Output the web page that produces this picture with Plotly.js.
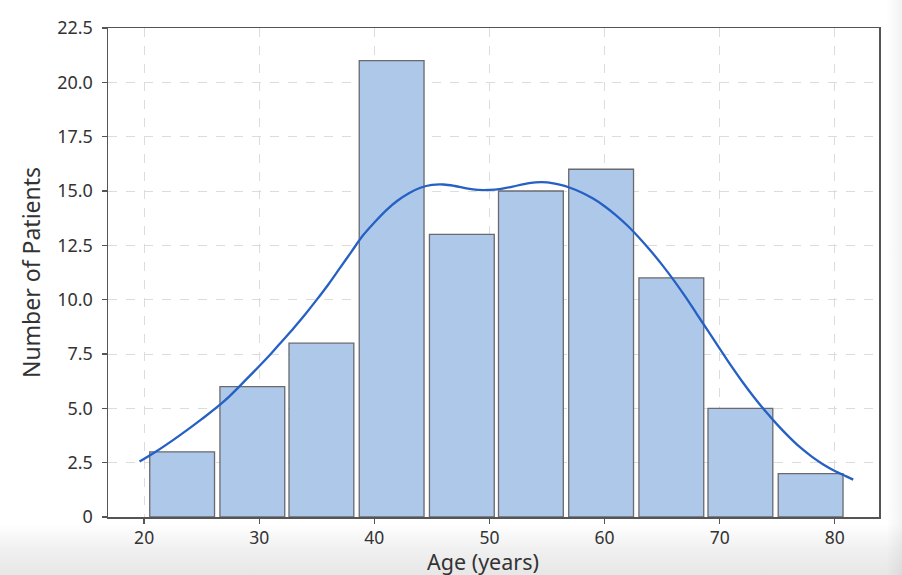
<!DOCTYPE html>
<html>
<head>
<meta charset="utf-8">
<script src="https://cdn.plot.ly/plotly-3.0.1.min.js"></script>
<style>
  html, body { margin: 0; padding: 0; }
  body {
    width: 902px; height: 575px; overflow: hidden;
    background:
      linear-gradient(90deg, rgba(0,0,0,0) 0px, rgba(0,0,0,0) 886px, rgba(0,0,0,0.05) 902px),
      linear-gradient(180deg, #ffffff 0px, #ffffff 524px, #f1f1f1 548px, #e7e7e7 575px);
  }
  #chart { width: 902px; height: 575px; }
</style>
</head>
<body>
<div id="chart"></div>
<script>
// ---- data ----
const binCenters = [23.3, 29.4, 35.4, 41.5, 47.6, 53.6, 59.7, 65.8, 71.8, 77.9];
const patientCounts = [3, 6, 8, 21, 13, 15, 16, 11, 5, 2];

const kdeAge = [19.6, 21, 23, 25, 27, 29, 31, 32, 33, 34, 35, 36, 37, 38, 39, 40, 41, 42, 43, 44, 45, 46, 47, 48, 49, 50, 51, 52, 53, 54, 55, 56, 57, 58, 59, 60, 61, 62, 63, 64, 65, 66, 67, 68, 69, 70, 71, 72, 73, 74, 75, 76, 77, 78, 79, 80, 81, 81.6];
const kdeCount = [2.55, 3.0, 3.72, 4.5, 5.35, 6.4, 7.5, 8.1, 8.7, 9.33, 10.0, 10.7, 11.45, 12.2, 12.95, 13.55, 14.1, 14.55, 14.9, 15.15, 15.28, 15.3, 15.23, 15.12, 15.05, 15.05, 15.1, 15.2, 15.32, 15.4, 15.4, 15.3, 15.15, 14.93, 14.65, 14.3, 13.88, 13.4, 12.85, 12.25, 11.6, 10.9, 10.15, 9.35, 8.55, 7.75, 6.95, 6.2, 5.5, 4.85, 4.25, 3.7, 3.2, 2.78, 2.42, 2.12, 1.87, 1.72];

const xTickVals = [20, 30, 40, 50, 60, 70, 80];
const yTickVals = [0, 2.5, 5, 7.5, 10, 12.5, 15, 17.5, 20, 22.5];
const yTickText = ["0", "2.5", "5.0", "7.5", "10.0", "12.5", "15.0", "17.5", "20.0", "22.5"];

const xLabel = "Age (years)";
const yLabel = "Number of Patients";

// ---- traces ----
const bars = {
  type: 'bar',
  x: binCenters,
  y: patientCounts,
  width: 5.63,
  marker: {
    color: 'rgb(174,200,233)',
    line: { color: 'rgb(105,105,110)', width: 1.3 }
  },
  hoverinfo: 'x+y'
};

const kde = {
  type: 'scatter',
  mode: 'lines',
  x: kdeAge,
  y: kdeCount,
  line: { color: 'rgb(37,96,196)', width: 2.3, shape: 'spline', smoothing: 1 },
  hoverinfo: 'skip'
};

const FAMILY = 'Noto Sans, Open Sans, sans-serif';
const yTickFont = { family: FAMILY, size: 18, color: '#333' };
const xTickFont = { family: FAMILY, size: 17.5, color: '#333' };
const titleFont = { family: FAMILY, size: 23, color: '#333' };
const xTitleFont = { family: FAMILY, size: 21.5, color: '#333' };

const layout = {
  width: 902,
  height: 575,
  margin: { l: 108, r: 23, t: 28, b: 58, pad: 0 },
  paper_bgcolor: 'rgba(0,0,0,0)',
  plot_bgcolor: '#ffffff',
  showlegend: false,
  bargap: 0,
  xaxis: {
    range: [16.86, 83.84],
    tickvals: xTickVals,
    ticktext: xTickVals.map(String),
    ticks: 'outside',
    ticklen: 5,
    tickwidth: 1.3,
    tickcolor: '#555',
    tickfont: xTickFont,
    ticklabelstandoff: -1,
    showline: true,
    mirror: true,
    linecolor: '#555',
    linewidth: 1.5,
    showgrid: true,
    gridcolor: '#dcdcdc',
    griddash: 'dash',
    gridwidth: 1,
    zeroline: false,
    automargin: false
  },
  yaxis: {
    range: [0, 22.5],
    tickvals: yTickVals,
    ticktext: yTickText,
    ticks: 'outside',
    ticklen: 5,
    tickwidth: 1.3,
    tickcolor: '#555',
    tickfont: yTickFont,
    ticklabelstandoff: 5,
    showline: true,
    mirror: true,
    linecolor: '#555',
    linewidth: 1.5,
    showgrid: true,
    gridcolor: '#dcdcdc',
    griddash: 'dash',
    gridwidth: 1,
    zeroline: false,
    automargin: false,
    title: { text: yLabel, font: titleFont, standoff: 10 }
  },
  annotations: [{
    text: xLabel,
    xref: 'paper', yref: 'paper',
    x: 0.487, y: 0,
    xanchor: 'center', yanchor: 'middle',
    yshift: -44.5,
    borderpad: 0,
    showarrow: false,
    font: xTitleFont
  }]
};

Plotly.newPlot('chart', [bars, kde], layout, { displayModeBar: false, staticPlot: true });
</script>
</body>
</html>
